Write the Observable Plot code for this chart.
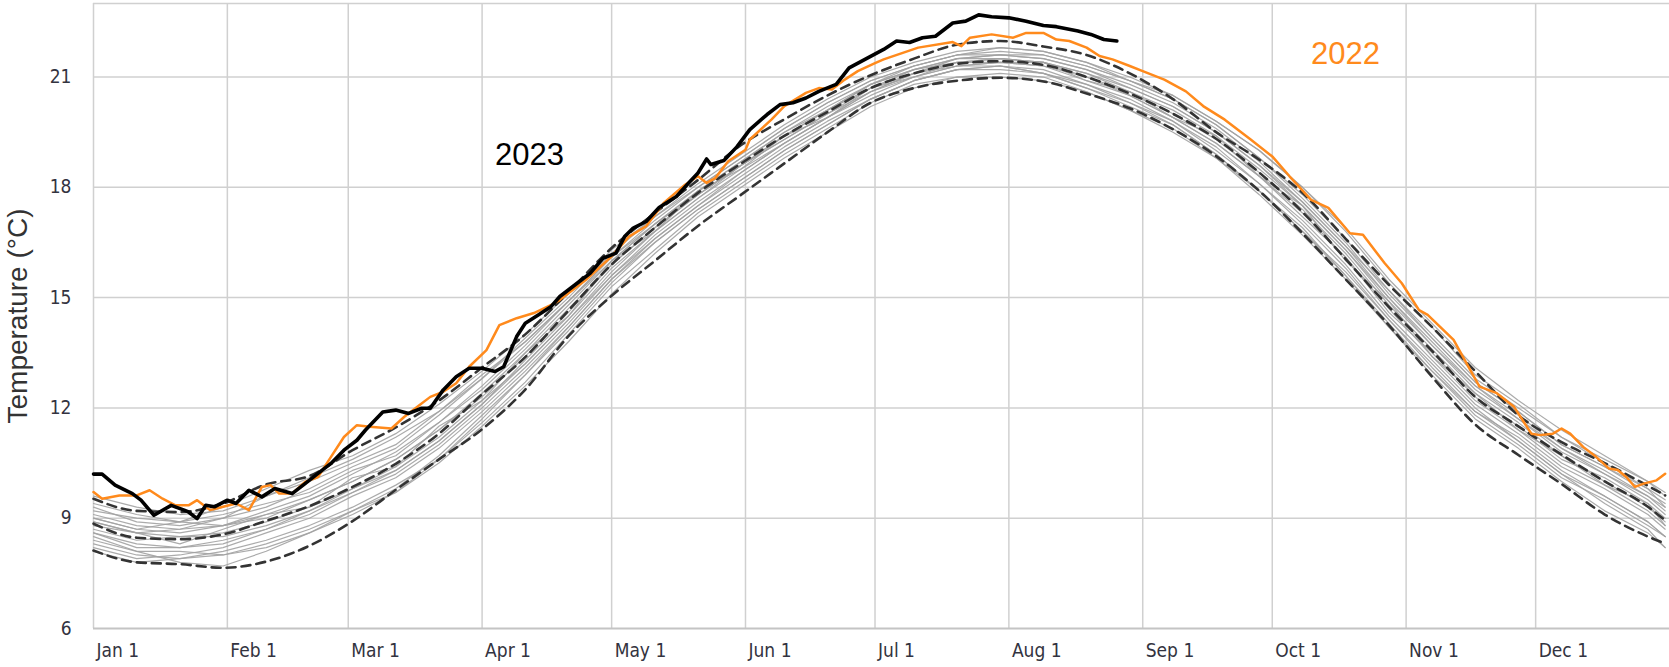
<!DOCTYPE html>
<html>
<head>
<meta charset="utf-8">
<script src="https://cdn.jsdelivr.net/npm/d3@7"></script>
<script src="https://cdn.jsdelivr.net/npm/@observablehq/plot@0.6"></script>
<style>
  html, body { margin: 0; padding: 0; background: #fff; }
  #chart svg { display: block; }
</style>
</head>
<body>
<div id="chart"></div>
<script>
// ---- tick data ----
const monthTicks = [0, 31, 59, 90, 120, 151, 181, 212, 243, 273, 304, 334];
const monthLabels = ["Jan 1", "Feb 1", "Mar 1", "Apr 1", "May 1", "Jun 1", "Jul 1", "Aug 1", "Sep 1", "Oct 1", "Nov 1", "Dec 1"];
const yTicks = [6, 9, 12, 15, 18, 21];
const yLabel = "Temperature (°C)";

// ---- climatology (dashed) on a 10-day grid ----
const gridDays = [0,10,20,30,40,50,60,70,80,90,100,110,120,130,140,150,160,170,180,190,200,210,220,230,240,250,260,270,280,290,300,310,320,330,340,350,360,364];
const meanT  = [8.85,8.47,8.43,8.56,8.93,9.33,9.85,10.48,11.3,12.37,13.38,14.65,15.9,16.9,17.85,18.65,19.4,20.05,20.7,21.1,21.36,21.43,21.33,21.0,20.55,20.0,19.32,18.4,17.33,16.05,14.75,13.55,12.3,11.5,10.73,10.0,9.31,8.94];
const upperT = [9.53,9.2,9.17,9.4,9.92,10.15,10.85,11.47,12.2,13.1,14.0,15.15,16.35,17.3,18.2,19.15,19.85,20.5,21.05,21.5,21.88,21.98,21.83,21.6,21.1,20.4,19.5,18.75,17.85,16.6,15.35,14.2,13.0,11.8,11.07,10.5,9.88,9.62];
const lowerT = [8.12,7.8,7.75,7.65,7.82,8.25,8.92,9.77,10.6,11.42,12.5,13.95,15.05,16.0,16.95,17.8,18.65,19.5,20.3,20.7,20.9,20.98,20.88,20.55,20.15,19.58,18.85,17.9,16.75,15.5,14.25,12.85,11.55,10.72,9.93,9.1,8.5,8.31];

// ---- individual past years (grey), same 10-day grid ----
const gray01 = [9.3,8.9,8.8,9.0,9.3,9.8,10.4,10.9,11.8,12.8,13.9,15.0,16.2,17.2,18.1,18.9,19.7,20.4,21.0,21.4,21.7,21.8,21.7,21.4,20.9,20.4,19.7,18.8,17.8,16.6,15.2,13.9,12.7,11.9,11.0,10.4,9.7,9.4];
const gray02 = [8.3,8.0,7.9,8.1,8.4,8.8,9.3,9.9,10.6,11.6,12.7,14.0,15.3,16.3,17.3,18.1,18.9,19.6,20.3,20.8,21.0,21.1,21.0,20.6,20.1,19.6,18.8,17.9,16.8,15.6,14.2,13.0,11.8,11.0,10.1,9.5,8.8,8.5];
const gray03 = [8.9,8.6,8.3,8.7,9.1,9.3,10.1,10.4,11.5,12.2,13.5,14.5,16.0,16.8,17.9,18.5,19.4,19.9,20.7,21.0,21.4,21.4,21.4,20.9,20.6,19.9,19.4,18.3,17.5,16.0,14.9,13.4,12.4,11.4,10.7,9.9,9.4,8.8];
const gray04 = [9.6,9.3,9.1,9.2,9.6,10.0,10.5,11.0,11.9,12.8,13.8,14.9,16.1,17.0,17.8,18.6,19.3,20.0,20.6,21.0,21.3,21.3,21.1,20.8,20.3,19.8,19.0,18.1,17.0,15.8,14.4,13.2,12.0,11.1,10.2,9.6,8.9,8.5];
const gray05 = [8.2,7.9,8.0,8.2,8.6,9.0,9.6,10.1,10.9,11.9,13.0,14.2,15.5,16.6,17.5,18.4,19.2,19.9,20.6,21.1,21.5,21.6,21.6,21.3,20.9,20.4,19.7,18.8,17.7,16.5,15.1,13.9,12.7,11.9,11.0,10.4,9.8,9.5];
const gray06 = [9.1,8.8,8.7,8.8,9.2,9.6,10.2,10.8,11.6,12.6,13.7,14.9,16.1,17.1,18.0,18.8,19.6,20.3,20.9,21.3,21.6,21.6,21.5,21.2,20.8,20.3,19.6,18.7,17.6,16.4,15.0,13.8,12.6,11.8,10.9,10.2,9.6,9.2];
const gray07 = [8.6,8.2,8.2,8.3,8.7,9.1,9.7,10.2,11.0,12.0,13.1,14.3,15.6,16.6,17.5,18.3,19.1,19.8,20.4,20.9,21.2,21.3,21.2,20.8,20.4,19.8,19.1,18.1,17.1,15.9,14.5,13.3,12.1,11.3,10.4,9.8,9.1,8.7];
const gray08 = [8.8,8.6,8.7,9.0,9.6,10.1,10.6,11.2,11.9,12.9,13.8,14.9,16.0,17.0,17.9,18.7,19.5,20.1,20.8,21.2,21.5,21.5,21.4,21.1,20.7,20.2,19.5,18.6,17.6,16.4,15.2,14.0,12.8,12.0,11.2,10.5,9.8,9.3];
const gray09 = [8.5,8.1,7.8,7.7,8.1,8.6,9.2,9.8,10.7,11.8,12.9,14.1,15.4,16.5,17.4,18.2,19.0,19.7,20.4,20.9,21.2,21.2,21.1,20.7,20.2,19.7,18.9,17.9,16.9,15.6,14.3,13.0,11.9,11.1,10.2,9.4,8.7,8.2];
const gray10 = [9.2,9.0,8.9,8.8,9.0,9.5,10.0,10.6,11.4,12.4,13.5,14.7,15.9,16.9,17.8,18.6,19.4,20.1,20.7,21.2,21.4,21.5,21.4,21.1,20.6,20.1,19.4,18.5,17.5,16.3,14.9,13.7,12.5,11.7,10.8,10.2,9.5,9.1];
const gray11 = [8.7,8.4,8.5,8.6,8.9,9.3,9.8,10.4,11.2,12.2,13.2,14.4,15.7,16.8,17.7,18.5,19.2,19.9,20.6,21.1,21.3,21.4,21.3,21.0,20.5,19.9,19.2,18.3,17.2,16.1,14.6,13.5,12.3,11.5,10.6,10.1,9.4,9.0];
const gray12 = [8.9,8.6,8.5,8.5,8.8,9.2,9.8,10.3,11.1,12.1,13.3,14.5,15.8,16.8,17.7,18.6,19.4,20.1,20.8,21.3,21.6,21.7,21.6,21.3,20.9,20.5,19.8,19.0,18.0,16.8,15.4,14.2,12.9,12.1,11.2,10.6,10.0,9.7];
const gray13 = [8.1,7.8,7.9,8.0,8.3,8.7,9.2,9.7,10.5,11.5,12.6,13.8,15.1,16.2,17.2,18.0,18.8,19.5,20.2,20.7,21.0,21.0,20.9,20.6,20.1,19.5,18.8,17.8,16.7,15.5,14.2,12.9,11.7,10.9,10.0,9.2,8.6,8.2];
const gray14 = [9.4,9.1,8.9,9.1,9.4,9.7,10.3,10.7,11.6,12.5,13.6,14.8,16.0,17.0,17.9,18.7,19.5,20.2,20.8,21.2,21.5,21.6,21.5,21.2,20.7,20.2,19.5,18.6,17.5,16.3,15.0,13.7,12.6,11.7,10.9,10.3,9.6,9.3];
const gray15 = [9.0,8.7,8.9,9.3,9.8,10.3,10.7,11.3,12.1,13.0,14.0,15.1,16.3,17.2,18.0,18.8,19.6,20.3,20.9,21.3,21.6,21.8,21.7,21.4,21.0,20.5,19.8,19.0,18.0,16.9,15.5,14.3,13.1,12.2,11.4,10.7,10.0,9.6];
const gray16 = [8.4,8.1,8.1,8.0,8.2,8.6,9.1,9.7,10.6,11.7,12.9,14.2,15.5,16.5,17.4,18.2,19.0,19.7,20.4,20.9,21.2,21.3,21.1,20.7,20.3,19.7,18.9,17.9,16.8,15.7,14.4,13.1,11.9,11.2,10.3,9.6,8.9,8.5];
const gray17 = [9.0,8.7,8.6,8.8,9.1,9.5,10.0,10.6,11.4,12.3,13.4,14.6,15.9,16.9,17.8,18.6,19.3,20.0,20.7,21.1,21.4,21.5,21.4,21.0,20.6,20.0,19.3,18.4,17.4,16.2,14.8,13.6,12.4,11.6,10.7,10.0,9.3,8.9];
const gray18 = [8.6,8.3,8.2,8.4,8.7,9.2,9.7,10.3,11.1,12.1,13.2,14.4,15.6,16.7,17.6,18.4,19.2,19.9,20.5,21.0,21.3,21.4,21.3,20.9,20.5,19.9,19.2,18.3,17.3,16.1,14.7,13.4,12.2,11.4,10.5,9.9,9.2,8.8];

// ---- 2022 (orange) ----
const days2022 = [0,2,6,10,13,16,19,22,24,27,30,33,36,39,41,43,46,49,52,55,58,61,64,69,72,75,78,81,84,87,91,94,98,102,106,108,114,120,124,128,132,137,140,142,144,147,151,152,157,160,165,168,171,174,177,181,183,191,199,201,203,208,213,216,220,223,226,230,233,236,240,243,248,253,257,262,268,273,277,282,286,291,294,299,303,307,309,315,318,321,325,329,333,335,338,340,342,345,348,351,353,355,357,359,362,364];
const temp2022 = [9.71,9.53,9.62,9.62,9.76,9.53,9.35,9.35,9.49,9.22,9.31,9.4,9.22,9.85,9.9,9.67,9.67,9.99,10.12,10.67,11.21,11.53,11.49,11.44,11.76,12.03,12.3,12.44,12.67,13.12,13.57,14.25,14.44,14.58,14.8,14.94,15.48,16.12,16.66,16.94,17.57,18.07,18.3,18.12,18.25,18.71,19.02,19.3,19.84,20.21,20.57,20.7,20.66,20.93,21.16,21.38,21.48,21.8,21.95,21.84,22.07,22.16,22.07,22.2,22.2,22.02,21.98,21.8,21.57,21.48,21.3,21.16,20.93,20.61,20.21,19.84,19.3,18.84,18.3,17.66,17.44,16.75,16.71,15.94,15.39,14.66,14.53,13.85,13.21,12.58,12.4,12.03,11.3,11.26,11.3,11.44,11.3,10.94,10.67,10.35,10.31,10.12,9.85,9.94,10.03,10.21];

// ---- 2023 (black) ----
const days2023 = [0,2,5,9,11,14,18,21,22,24,26,28,31,33,36,39,42,46,49,52,55,58,61,63,67,70,73,76,78,81,84,87,90,93,95,98,100,103,106,108,112,115,118,121,123,125,128,131,135,138,140,142,143,146,149,152,156,159,162,165,168,172,175,179,183,186,189,192,195,199,202,205,208,212,216,220,223,228,231,234,237];
const temp2023 = [10.2,10.2,9.9,9.67,9.49,9.08,9.35,9.22,9.17,8.99,9.35,9.31,9.49,9.4,9.76,9.58,9.81,9.67,9.94,10.22,10.49,10.85,11.12,11.4,11.89,11.94,11.85,11.99,11.99,12.49,12.85,13.08,13.08,12.99,13.12,13.94,14.3,14.53,14.76,15.03,15.39,15.66,16.07,16.21,16.66,16.89,17.07,17.45,17.75,18.14,18.39,18.77,18.62,18.73,19.1,19.57,19.98,20.25,20.3,20.43,20.61,20.8,21.25,21.5,21.75,21.98,21.94,22.07,22.11,22.47,22.52,22.69,22.64,22.61,22.52,22.4,22.37,22.25,22.16,22.02,21.98];

// ---- annotations ----
const yearLabels = ["2023", "2022"];
const yearLabelDay = [93, 282];
const yearLabelTemp = [18.6, 21.35];
const yearLabelColor = ["#000000", "#ff8a1c"];

// ---- build tables ----
const grayList = [gray01,gray02,gray03,gray04,gray05,gray06,gray07,gray08,gray09,gray10,gray11,gray12,gray13,gray14,gray15,gray16,gray17,gray18];
const grayRows = grayList.flatMap((arr, k) => arr.map((t, i) => ({year: k, day: gridDays[i], temp: t})));
const dashRows = [["mean", meanT], ["upper", upperT], ["lower", lowerT]]
  .flatMap(([kind, arr]) => arr.map((t, i) => ({kind, day: gridDays[i], temp: t})));
const rows2022 = days2022.map((d, i) => ({day: d, temp: temp2022[i]}));
const rows2023 = days2023.map((d, i) => ({day: d, temp: temp2023[i]}));
const labelRows = yearLabels.map((s, i) => ({text: s, day: yearLabelDay[i], temp: yearLabelTemp[i], color: yearLabelColor[i]}));

const tickFont = "'Liberation Sans Narrow', 'DejaVu Sans Condensed', 'Roboto Condensed', 'Liberation Sans', sans-serif";
const textFont = "'Liberation Sans', Arial, sans-serif";

const chart = Plot.plot({
  width: 1669,
  height: 667,
  marginLeft: 93,
  marginRight: 0,
  marginTop: 3,
  marginBottom: 39,
  style: {background: "#fff"},
  x: {domain: [0, 365], axis: null},
  y: {domain: [6, 23], axis: null},
  marks: [
    Plot.ruleX(monthTicks, {stroke: "#d0d0d0", strokeWidth: 1.5}),
    Plot.ruleY(yTicks.slice(1).concat([23]), {stroke: "#d0d0d0", strokeWidth: 1.5}),
    Plot.ruleY([6], {stroke: "#c4c4c4", strokeWidth: 2}),
    Plot.line(grayRows, {x: "day", y: "temp", z: "year", stroke: "#a2a2a2", strokeWidth: 1.2, strokeOpacity: 0.9}),
    Plot.line(dashRows, {x: "day", y: "temp", z: "kind", stroke: "#333", strokeWidth: 2.6, strokeDasharray: "9,6", curve: "monotone-x"}),
    Plot.line(rows2022, {x: "day", y: "temp", stroke: "#ff8a1c", strokeWidth: 2.5}),
    Plot.line(rows2023, {x: "day", y: "temp", stroke: "#000", strokeWidth: 3.6, strokeLinejoin: "round"}),
    Plot.axisX({
      ticks: monthTicks,
      tickFormat: d => monthLabels[monthTicks.indexOf(d)],
      tickSize: 0,
      tickPadding: 15,
      textAnchor: "start",
      dx: 3,
      fontSize: 19,
      fontFamily: tickFont,
      fill: "#333340",
      label: null
    }),
    Plot.axisY({
      ticks: yTicks,
      tickSize: 0,
      tickPadding: 22,
      fontSize: 19,
      fontFamily: tickFont,
      fill: "#333340",
      label: null
    }),
    Plot.text([yLabel], {
      frameAnchor: "left",
      textAnchor: "middle",
      rotate: -90,
      dx: -75,
      fontSize: 28,
      fontFamily: textFont,
      fill: "#333"
    }),
    Plot.text(labelRows, {
      x: "day", y: "temp", text: "text", fill: "color",
      textAnchor: "start", lineAnchor: "bottom",
      fontSize: 31, fontFamily: textFont
    })
  ]
});

document.getElementById("chart").appendChild(chart);
</script>
</body>
</html>
